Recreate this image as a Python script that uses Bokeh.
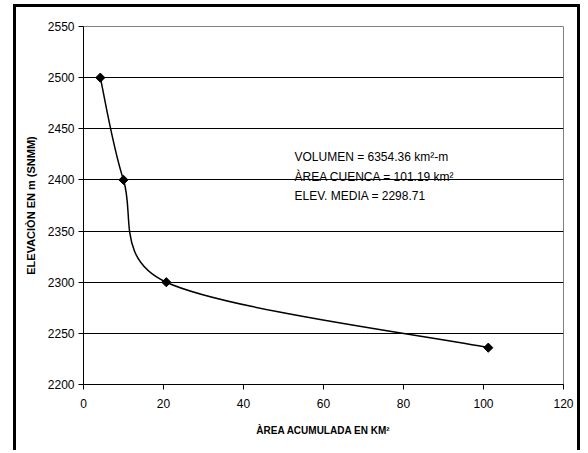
from math import pi, hypot
from bokeh.plotting import figure
from bokeh.models import Label, FixedTicker, Range1d
from bokeh.embed import file_html
from bokeh.resources import INLINE

# ---- data ----
area_km2 = [4.2, 10.0, 20.7, 101.19]
elevation_m = [2500, 2400, 2300, 2236]
x_tick_values = [0, 20, 40, 60, 80, 100, 120]
y_tick_values = [2200, 2250, 2300, 2350, 2400, 2450, 2500, 2550]
info_lines = ["VOLUMEN = 6354.36 km²-m", "ÀREA CUENCA = 101.19 km²", "ELEV. MEDIA = 2298.71"]
x_title = "ÀREA ACUMULADA EN KM²"
y_title = "ELEVACIÒN EN m (SNMM)"

FONT = "Liberation Sans"
W, H = 567, 446
BL, BR, BT, BB = 67, 20, 19, 69
X0, X1, Y0, Y1 = 0, 120, 2200, 2550

p = figure(width=W, height=H, output_backend="svg", toolbar_location=None,
           x_range=Range1d(X0, X1), y_range=Range1d(Y0, Y1),
           min_border_left=BL, min_border_right=BR, min_border_top=BT, min_border_bottom=BB,
           background_fill_color="white", border_fill_color="white")
# outer chart-area frame (thick black border; its bottom edge lies outside the window)
p.styles = {"border": "3px solid black", "border-bottom": "none",
            "margin-left": "13px", "margin-top": "4px"}

p.outline_line_color = "#808080"
p.outline_line_width = 1

p.xgrid.visible = False
p.ygrid.grid_line_color = "#000000"
p.ygrid.grid_line_width = 1

for ax, ticks in ((p.xaxis, x_tick_values), (p.yaxis, y_tick_values)):
    ax.ticker = FixedTicker(ticks=ticks)
    ax.axis_line_color = "black"
    ax.major_tick_line_color = "black"
    ax.major_tick_out = 5
    ax.major_tick_in = 0
    ax.minor_tick_line_color = None
    ax.major_label_text_font = FONT
    ax.major_label_text_font_size = "12px"
    ax.major_label_text_color = "black"
    ax.axis_label_text_font = FONT
    ax.axis_label_text_font_style = "bold"
    ax.axis_label_text_color = "black"

p.xaxis.axis_label = x_title
p.xaxis.axis_label_text_font_size = "10px"
p.xaxis.major_label_standoff = 9
p.xaxis.axis_label_standoff = 14
p.yaxis.axis_label = y_title
p.yaxis.axis_label_text_font_size = "11px"
p.yaxis.major_label_standoff = 4
p.yaxis.axis_label_standoff = 8

# smoothed line: Bezier segments with tangents parallel to neighbour chords,
# each control arm capped at half of its segment (measured on screen)
sx = (W - BL - BR) / (X1 - X0)
sy = (H - BT - BB) / (Y1 - Y0)
n = len(area_km2)
ext_x = [area_km2[0]] + area_km2 + [area_km2[-1]]
ext_y = [elevation_m[0]] + elevation_m + [elevation_m[-1]]


def arm(ax_, ay_, bx_, by_, seg_len):
    dx, dy = (bx_ - ax_) / 6, (by_ - ay_) / 6
    L = hypot(dx * sx, dy * sy)
    if L > seg_len / 2 and L > 0:
        k = (seg_len / 2) / L
        dx, dy = dx * k, dy * k
    return dx, dy


x0s, y0s, x1s, y1s, cx0, cy0, cx1, cy1 = [], [], [], [], [], [], [], []
for i in range(n - 1):
    ax0, ax1, ax2, ax3 = ext_x[i:i + 4]
    ay0, ay1, ay2, ay3 = ext_y[i:i + 4]
    seg = hypot((ax2 - ax1) * sx, (ay2 - ay1) * sy)
    d1x, d1y = arm(ax0, ay0, ax2, ay2, seg)
    d2x, d2y = arm(ax1, ay1, ax3, ay3, seg)
    x0s.append(ax1); y0s.append(ay1); x1s.append(ax2); y1s.append(ay2)
    cx0.append(ax1 + d1x); cy0.append(ay1 + d1y)
    cx1.append(ax2 - d2x); cy1.append(ay2 - d2y)
p.bezier(x0=x0s, y0=y0s, x1=x1s, y1=y1s, cx0=cx0, cy0=cy0, cx1=cx1, cy1=cy1,
         line_color="black", line_width=1.5)

p.scatter(area_km2, elevation_m, marker="square", angle=pi / 4, size=6.5,
          fill_color="black", line_color="black")

line_y = [2422.7, 2402.5, 2384.6]
for txt, yy in zip(info_lines, line_y):
    p.add_layout(Label(x=52.75, y=yy, text=txt, text_font=FONT, text_font_size="12px",
                       text_color="black", text_baseline="alphabetic"))

open("out.html", "w").write(file_html(p, INLINE))
